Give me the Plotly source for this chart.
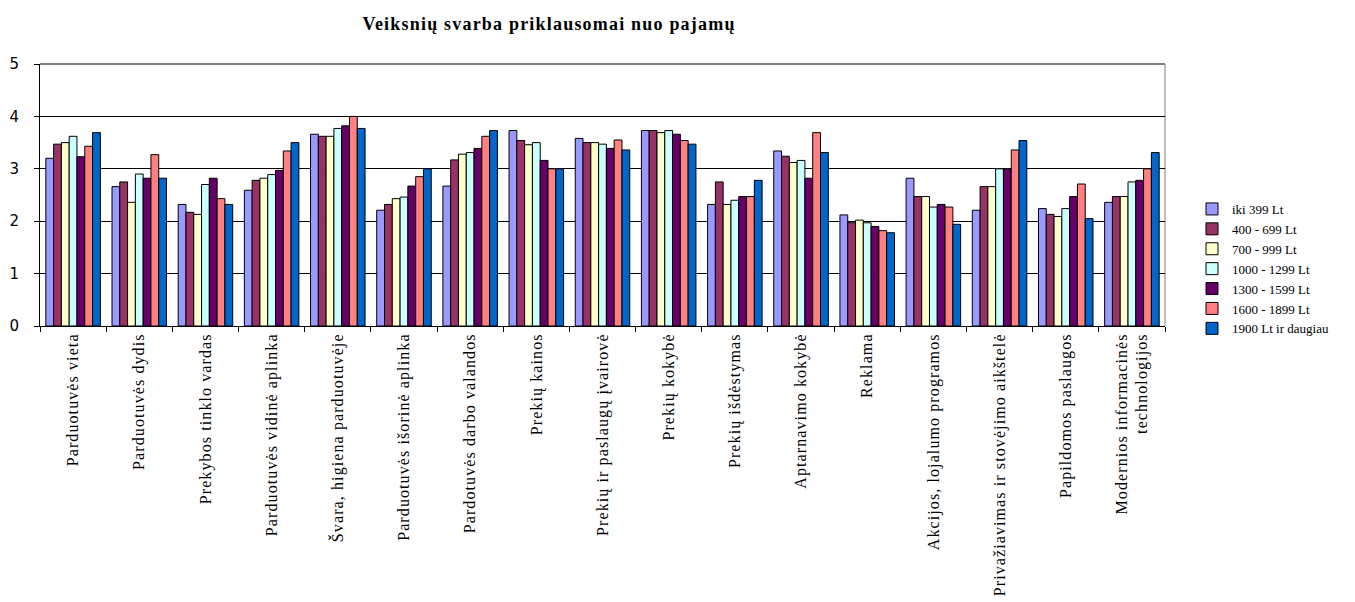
import plotly.graph_objects as go

# Factors evaluated in the survey
categories = [
    "Parduotuvės vieta",
    "Parduotuvės dydis",
    "Prekybos tinklo vardas",
    "Parduotuvės vidinė aplinka",
    "Švara, higiena parduotuvėje",
    "Parduotuvės išorinė aplinka",
    "Pardotuvės darbo valandos",
    "Prekių kainos",
    "Prekių ir paslaugų įvairovė",
    "Prekių kokybė",
    "Prekių išdėstymas",
    "Aptarnavimo kokybė",
    "Reklama",
    "Akcijos, lojalumo programos",
    "Privažiavimas ir stovėjimo aikštelė",
    "Papildomos paslaugos",
    "Modernios informacinės<br>technologijos",
]

# Average importance by income group
iki_399 = [3.20, 2.66, 2.32, 2.59, 3.66, 2.21, 2.67, 3.73, 3.58, 3.73, 2.32, 3.34, 2.12, 2.82, 2.21, 2.24, 2.36]
lt_400_699 = [3.47, 2.75, 2.17, 2.78, 3.62, 2.32, 3.17, 3.54, 3.50, 3.73, 2.75, 3.24, 1.97, 2.47, 2.66, 2.13, 2.47]
lt_700_999 = [3.50, 2.36, 2.13, 2.82, 3.62, 2.43, 3.28, 3.46, 3.50, 3.69, 2.32, 3.12, 2.02, 2.47, 2.66, 2.09, 2.47]
lt_1000_1299 = [3.62, 2.90, 2.70, 2.89, 3.77, 2.46, 3.31, 3.50, 3.47, 3.73, 2.40, 3.16, 1.97, 2.27, 3.00, 2.24, 2.75]
lt_1300_1599 = [3.23, 2.82, 2.82, 2.97, 3.82, 2.67, 3.39, 3.16, 3.39, 3.66, 2.47, 2.82, 1.90, 2.32, 3.00, 2.47, 2.78]
lt_1600_1899 = [3.43, 3.27, 2.43, 3.34, 4.00, 2.85, 3.62, 3.00, 3.55, 3.54, 2.47, 3.69, 1.82, 2.27, 3.36, 2.71, 3.00]
lt_1900_plus = [3.69, 2.82, 2.32, 3.50, 3.77, 3.00, 3.73, 3.00, 3.36, 3.47, 2.78, 3.31, 1.78, 1.94, 3.54, 2.05, 3.31]

series_names = [
    "iki 399 Lt",
    "400 - 699 Lt",
    "700 - 999 Lt",
    "1000 - 1299 Lt",
    "1300 - 1599 Lt",
    "1600 - 1899 Lt",
    "1900 Lt ir daugiau",
]
series_values = [iki_399, lt_400_699, lt_700_999, lt_1000_1299,
                 lt_1300_1599, lt_1600_1899, lt_1900_plus]
series_colors = ["#9999FF", "#993366", "#FFFFCC", "#CCFFFF",
                 "#660066", "#FF8080", "#0066CC"]

SERIF = "Liberation Serif, Times New Roman, serif"

fig = go.Figure()
for name, vals, col in zip(series_names, series_values, series_colors):
    fig.add_trace(go.Bar(
        x=categories, y=vals, name=name,
        marker=dict(color=col, line=dict(color="#000000", width=1)),
    ))

fig.update_layout(
    width=1355, height=602,
    barmode="group", bargap=0.176, bargroupgap=0,
    plot_bgcolor="#FFFFFF", paper_bgcolor="#FFFFFF",
    margin=dict(l=40, r=190, t=64, b=276),
    title=dict(
        text="<b>Veiksnių svarba priklausomai nuo pajamų</b>",
        font=dict(family=SERIF, size=18, color="#000000"),
        x=549 / 1355, xref="container", xanchor="center",
        y=1 - 24 / 602, yref="container", yanchor="middle",
    ),
    legend=dict(
        font=dict(family=SERIF, size=13, color="#000000"),
        xref="container", yref="container",
        x=1192 / 1355, xanchor="left",
        y=1 - 269 / 602, yanchor="middle",
        bgcolor="rgba(0,0,0,0)",
    ),
    showlegend=True,
)

fig.update_xaxes(
    type="category",
    tickangle=-90,
    tickfont=dict(family=SERIF, size=16, color="#000000"),
    showline=True, linecolor="#000000", linewidth=1,
    ticks="outside", ticklen=5, tickcolor="#000000",
    tickson="boundaries",
    showgrid=False, automargin=False,
)

fig.update_yaxes(
    range=[0, 5], dtick=1,
    tickfont=dict(family="DejaVu Sans, Verdana, sans-serif", size=15, color="#000000"),
    showline=True, linecolor="#000000", linewidth=1,
    ticks="outside", ticklen=5, tickcolor="#000000",
    showgrid=True, gridcolor="#000000", gridwidth=1,
    zeroline=False, automargin=False,
    ticklabelstandoff=12,
)

# Plot area frame on the top and right sides
fig.add_shape(type="line", xref="paper", yref="paper", x0=0, x1=1, y0=1, y1=1,
              line=dict(color="#808080", width=2), layer="above")
fig.add_shape(type="line", xref="paper", yref="paper", x0=1, x1=1, y0=0, y1=1,
              line=dict(color="#808080", width=1), layer="below")

# Loose letter spacing for the category labels and the title
spacing_js = """
var gd = document.getElementById('{plot_id}');
function spaceOut() {
  gd.querySelectorAll('.xtick text').forEach(function (t) { t.style.letterSpacing = '1.1px'; });
  gd.querySelectorAll('.gtitle').forEach(function (t) { t.style.letterSpacing = '1.2px'; });
}
spaceOut();
gd.on('plotly_afterplot', spaceOut);
"""

fig.write_html("out.html", post_script=spacing_js)
